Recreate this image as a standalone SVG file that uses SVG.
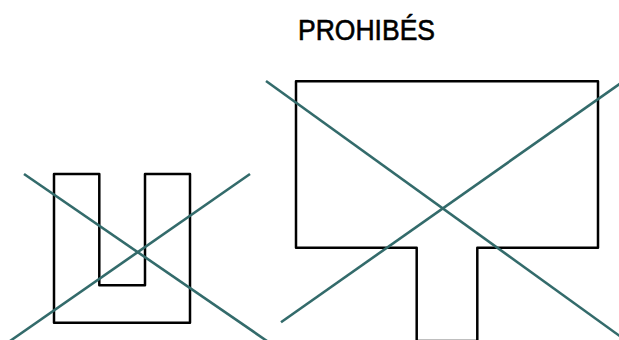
<svg xmlns="http://www.w3.org/2000/svg" width="619" height="340" viewBox="0 0 619 340">
<style>
.shape{fill:none;stroke:#000;stroke-width:2.5;stroke-linejoin:round;stroke-linecap:round}
.cross{stroke:#336b6b;stroke-width:2.6;stroke-linecap:butt}
.title{font-family:"Liberation Sans",Arial,sans-serif;font-size:29px;fill:#000;stroke:#000;stroke-width:0.6}
</style>
<rect width="619" height="340" fill="#fff"/>
<text class="title" x="298" y="39.5" textLength="137" lengthAdjust="spacingAndGlyphs">PROHIBÉS</text>
<g id="u-shape">
<path class="shape" d="M54,174 H99.3 V285.3 H145 V174 H190 V322.7 H54 Z"/>
</g>
<g id="t-shape">
<path class="shape" d="M296,81.3 H598 V247.7 H477.3 V340.9 H416.7 V247.7 H296 Z"/>
</g>
<g id="connectors">
<line class="cross" x1="24" y1="174" x2="267" y2="341"/>
<line class="cross" x1="250" y1="174" x2="10" y2="341"/>
<line class="cross" x1="266" y1="81" x2="620" y2="336.2"/>
<line class="cross" x1="281" y1="322.3" x2="620" y2="83.6"/>
</g>
</svg>
